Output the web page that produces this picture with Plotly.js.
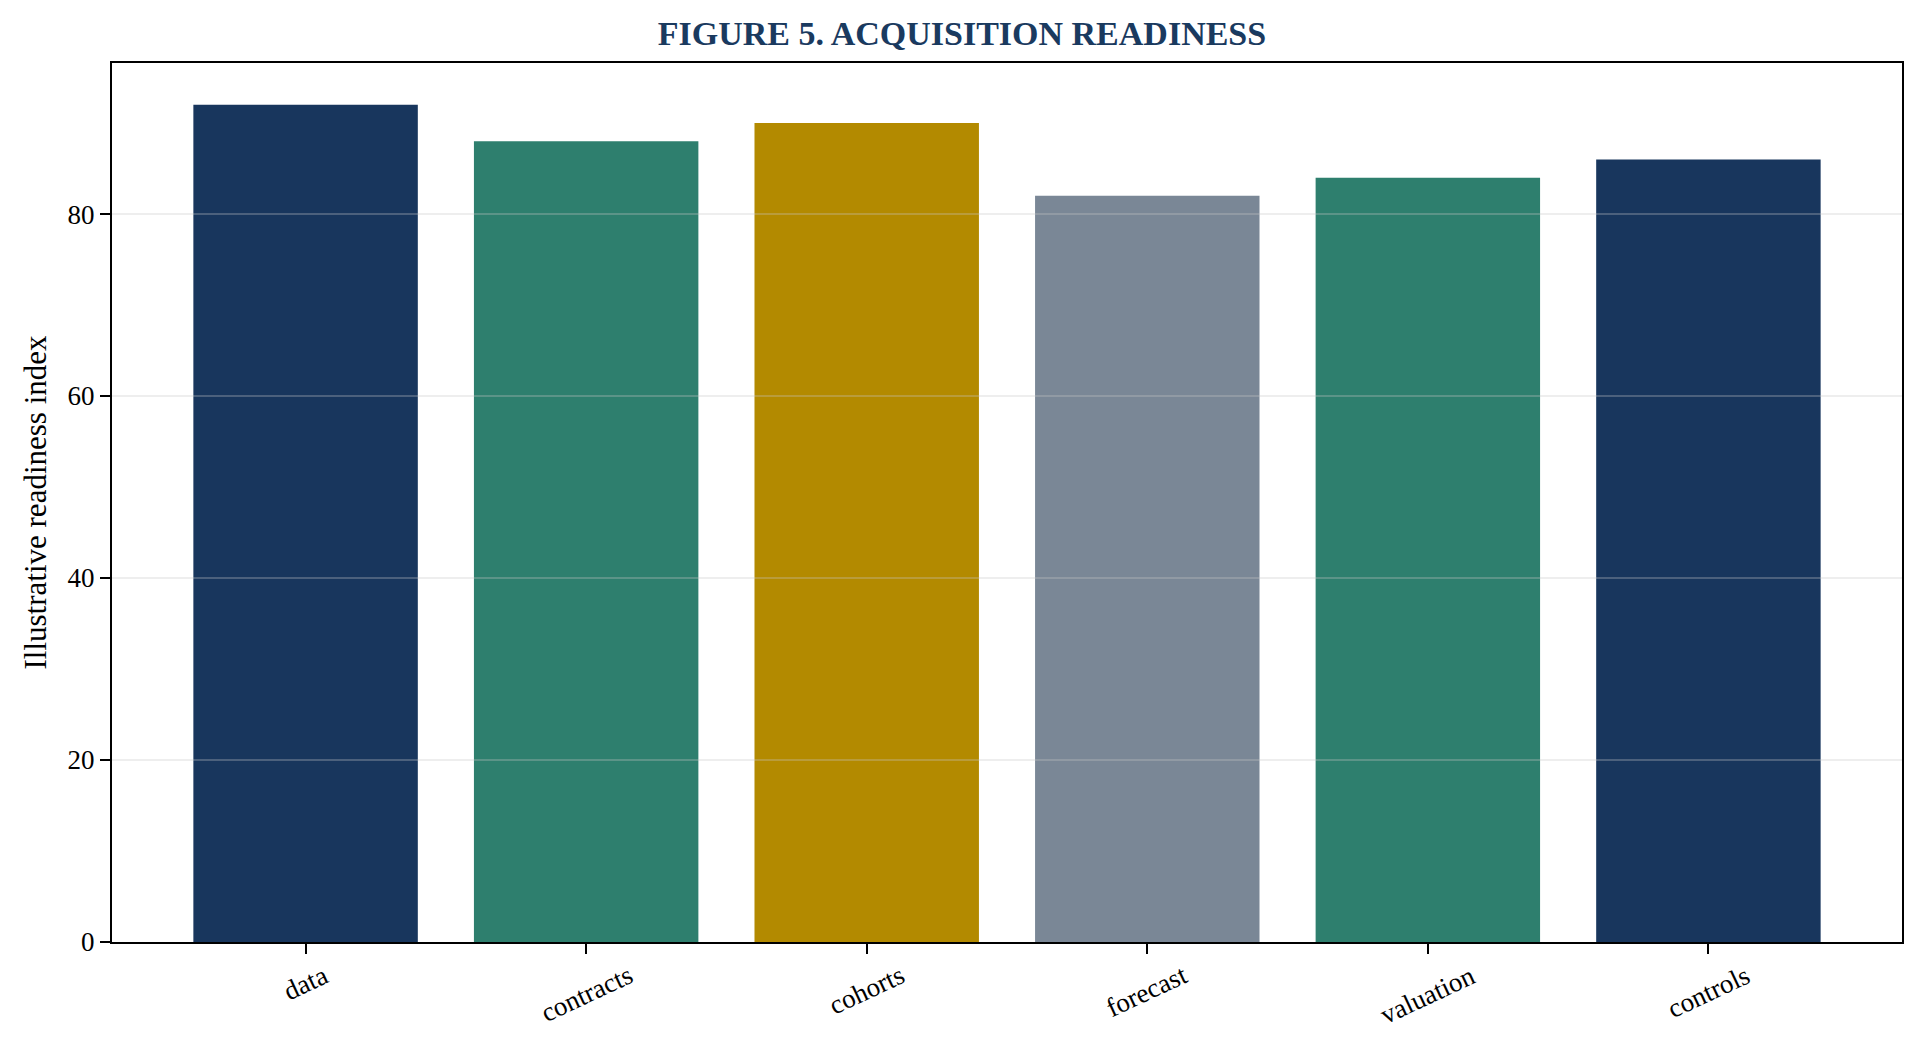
<!DOCTYPE html>
<html>
<head>
<meta charset="utf-8">
<script src="https://cdn.plot.ly/plotly-3.0.1.min.js"></script>
<style>
  html, body { margin: 0; padding: 0; background: #ffffff; }
  #chart { width: 1924px; height: 1050px; }
</style>
</head>
<body>
<div id="chart"></div>
<script>
// chart data
const categories = ["data", "contracts", "cohorts", "forecast", "valuation", "controls"];
const readiness = [92, 88, 90, 82, 84, 86];
const barColors = ["#18365d", "#2e7f6e", "#b38a00", "#7a8796", "#2e7f6e", "#18365d"];
const yTickVals = [0, 20, 40, 60, 80];

const serif = "Liberation Serif, Times New Roman, serif";

// grid lines sit above the bars in the reference, so draw them as shapes
const gridShapes = [];
for (const v of yTickVals) {
  if (v === 0) continue;
  gridShapes.push({
    type: "line",
    xref: "paper", x0: 0, x1: 1,
    yref: "y", y0: v, y1: v,
    layer: "above",
    line: { color: "rgba(200,200,200,0.3)", width: 2 }
  });
}

// x labels are centred on their ticks (rotated), plotly tick labels
// anchor at the end, so use annotations instead
const xLabels = categories.map(function(c) {
  return {
    x: c, xref: "x",
    y: 0, yref: "paper",
    text: c,
    showarrow: false,
    textangle: -25,
    xanchor: "center",
    yanchor: "top",
    yshift: -15,
    font: { family: serif, size: 27, color: "#000000" }
  };
});

const data = [{
  type: "bar",
  x: categories,
  y: readiness,
  marker: { color: barColors, line: { width: 0 } },
  width: 0.8,
  hoverinfo: "x+y"
}];

const layout = {
  width: 1924,
  height: 1050,
  margin: { l: 112, r: 22, t: 63, b: 108 },
  paper_bgcolor: "#ffffff",
  plot_bgcolor: "#ffffff",
  showlegend: false,
  font: { family: serif, size: 27, color: "#000000" },
  title: {
    text: "<b>FIGURE 5. ACQUISITION READINESS</b>",
    font: { family: serif, size: 34, color: "#1a3a5f" },
    x: 0.5, xanchor: "center",
    yref: "container", y: 1 - 33 / 1050, yanchor: "middle"
  },
  xaxis: {
    type: "category",
    range: [-0.69, 5.69],
    showticklabels: false,
    ticks: "outside",
    ticklen: 10,
    tickwidth: 2,
    tickcolor: "#000000",
    showline: true,
    linecolor: "#000000",
    linewidth: 2,
    mirror: true,
    showgrid: false,
    zeroline: false
  },
  yaxis: {
    range: [0, 96.6],
    tickvals: yTickVals,
    ticks: "outside",
    ticklen: 10,
    tickwidth: 2,
    tickcolor: "#000000",
    showline: true,
    linecolor: "#000000",
    linewidth: 2,
    mirror: true,
    showgrid: false,
    zeroline: false,
    tickfont: { family: serif, size: 27, color: "#000000" },
    title: {
      text: "Illustrative readiness index",
      font: { family: serif, size: 31, color: "#000000" },
      standoff: 12
    }
  },
  shapes: gridShapes,
  annotations: xLabels
};

Plotly.newPlot(document.getElementById("chart"), data, layout, { displayModeBar: false, staticPlot: true });
</script>
</body>
</html>
